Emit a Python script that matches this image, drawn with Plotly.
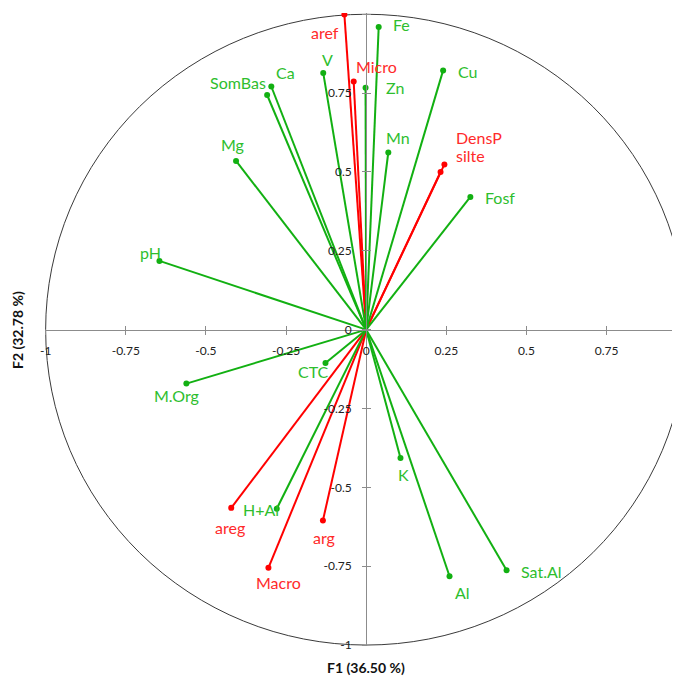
import plotly.graph_objects as go

# ---- data ----
green_names = ["pH", "Mg", "SomBas", "Ca", "V", "Fe", "Zn", "Cu", "Mn", "Fosf",
               "M.Org", "CTC", "H+Al", "K", "Al", "Sat.Al"]
green_f1 = [-0.645, -0.406, -0.309, -0.296, -0.134, 0.039, -0.002, 0.240, 0.069, 0.325,
            -0.561, -0.127, -0.279, 0.107, 0.260, 0.438]
green_f2 = [0.218, 0.535, 0.744, 0.771, 0.814, 0.960, 0.767, 0.822, 0.562, 0.421,
            -0.171, -0.106, -0.568, -0.407, -0.782, -0.763]

red_names = ["aref", "Micro", "DensP", "silte", "areg", "arg", "Macro"]
red_f1 = [-0.068, -0.039, 0.244, 0.232, -0.421, -0.135, -0.305]
red_f2 = [0.999, 0.787, 0.524, 0.500, -0.565, -0.605, -0.755]

tick_vals_x = [-1, -0.75, -0.5, -0.25, 0, 0.25, 0.5, 0.75]
tick_text_x = ["-1", "-0.75", "-0.5", "-0.25", "0", "0.25", "0.5", "0.75"]
tick_vals_y = [-1, -0.75, -0.5, -0.25, 0, 0.25, 0.5, 0.75, 1]
tick_text_y = ["-1", "-0.75", "-0.5", "-0.25", "0", "0.25", "0.5", "0.75", "1"]

x_title = "F1 (36.50 %)"
y_title = "F2 (32.78 %)"

# ---- styling ----
GREEN_LINE = "#12B012"
GREEN_TEXT = "#2EBE2E"
RED_LINE = "#FF0000"
RED_TEXT = "#FF2A2A"
FONT = "Lato"

# label offsets in pixels (dx, dy up)
label_offsets = {
    "pH": (-9, 8), "Mg": (-4, 16), "SomBas": (-29, 13), "Ca": (14, 14), "V": (4, 13),
    "aref": (-19, -18), "Fe": (23, 2), "Micro": (23, 15), "Zn": (29, 0), "Cu": (24, -1),
    "Mn": (10, 15), "DensP": (35, 27), "silte": (30, 16), "Fosf": (30, -1),
    "M.Org": (-10, -12), "CTC": (-12, -8), "areg": (-1, -20), "H+Al": (-16, -1),
    "arg": (1, -17), "Macro": (10, -15), "K": (3, -16), "Al": (13, -16), "Sat.Al": (35, -1),
}

XR = [-1.002, 0.979]
YR = [-1.003, 1.004]


def vec_xy(xs, ys):
    lx, ly = [], []
    for a, b in zip(xs, ys):
        lx += [0, a, None]
        ly += [0, b, None]
    return lx, ly


fig = go.Figure()

for xs, ys, col in [(red_f1, red_f2, RED_LINE), (green_f1, green_f2, GREEN_LINE)]:
    lx, ly = vec_xy(xs, ys)
    fig.add_trace(go.Scatter(x=lx, y=ly, mode="lines", line=dict(color=col, width=2),
                             hoverinfo="skip", showlegend=False))
    fig.add_trace(go.Scatter(x=xs, y=ys, mode="markers", marker=dict(color=col, size=6),
                             showlegend=False))

# invisible trace for the overlay axes (crossing tick marks)
fig.add_trace(go.Scatter(x=[0], y=[0], xaxis="x2", yaxis="y2", mode="markers",
                         marker=dict(size=0.1, opacity=0), showlegend=False, hoverinfo="skip"))

annotations = []
for names, xs, ys, col in [(green_names, green_f1, green_f2, GREEN_TEXT),
                           (red_names, red_f1, red_f2, RED_TEXT)]:
    for n, a, b in zip(names, xs, ys):
        dx, dy = label_offsets[n]
        annotations.append(dict(x=a, y=b, xref="x", yref="y", text=n, showarrow=False,
                                xshift=dx, yshift=dy, xanchor="center", yanchor="middle",
                                font=dict(family=FONT, size=16, color=col)))

annotations.append(dict(x=0, y=-0.034, xref="x", yref="paper", text="<b>" + x_title + "</b>",
                        showarrow=False, xanchor="center", yanchor="middle",
                        font=dict(family=FONT, size=14, color="#111111")))
annotations.append(dict(x=-0.0435, y=0, xref="paper", yref="y", text="<b>" + y_title + "</b>",
                        showarrow=False, xanchor="center", yanchor="middle", textangle=-90,
                        font=dict(family=FONT, size=14, color="#111111")))

xpos = (0 - YR[0]) / (YR[1] - YR[0])
ypos = (0 - XR[0]) / (XR[1] - XR[0])

AXC = "#8C8C8C"
fig.update_layout(
    width=680, height=679,
    margin=dict(l=37, r=8, t=5, b=41),
    paper_bgcolor="white", plot_bgcolor="white",
    xaxis=dict(range=XR, anchor="free", position=xpos, showgrid=False, zeroline=False,
               showline=True, linecolor=AXC, linewidth=1, ticks="outside", ticklen=4,
               tickcolor=AXC, tickvals=tick_vals_x, ticktext=tick_text_x,
               tickfont=dict(family=FONT, size=12, color="#222222"), ticklabelstandoff=6,
               fixedrange=True),
    yaxis=dict(range=YR, anchor="free", position=ypos, showgrid=False, zeroline=False,
               showline=True, linecolor=AXC, linewidth=1, ticks="outside", ticklen=4,
               tickcolor=AXC, tickvals=tick_vals_y, ticktext=tick_text_y,
               tickfont=dict(family=FONT, size=12, color="#222222"), ticklabelstandoff=8,
               fixedrange=True),
    xaxis2=dict(range=XR, overlaying="x", anchor="free", position=xpos, showgrid=False,
                zeroline=False, showline=False, ticks="inside", ticklen=4, tickcolor=AXC,
                tickvals=tick_vals_x, showticklabels=False),
    yaxis2=dict(range=YR, overlaying="y", anchor="free", position=ypos, showgrid=False,
                zeroline=False, showline=False, ticks="inside", ticklen=4, tickcolor=AXC,
                tickvals=tick_vals_y, showticklabels=False),
    shapes=[dict(type="circle", xref="x", yref="y", x0=-1, y0=-1, x1=1, y1=1,
                 line=dict(color="#3A3A3A", width=1), layer="below")],
    annotations=annotations,
    showlegend=False,
)

fig.write_html("out.html")
